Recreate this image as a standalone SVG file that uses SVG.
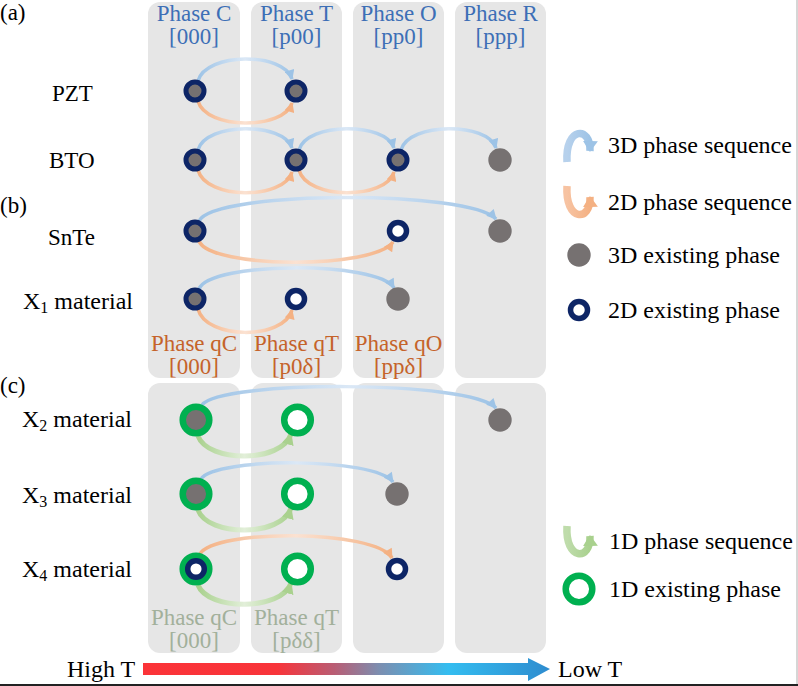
<svg xmlns="http://www.w3.org/2000/svg" width="798" height="686" viewBox="0 0 798 686">
<style>
text{font-family:"Liberation Serif","Times New Roman",serif;}
.lbl{font-size:23px;fill:#000;}
.lblx{font-size:24px;fill:#000;}
.leg{font-size:24px;fill:#000;}
.hdr{font-size:23px;fill:#3d6fb6;text-anchor:middle;}
.hq{font-size:23px;fill:#c5632a;text-anchor:middle;}
.hg{font-size:23px;fill:#a2b09b;text-anchor:middle;}
.col{fill:#e6e6e6;}
.g3{fill:#767171;}
.r2{fill:#767171;stroke:#0d2566;stroke-width:5;}
.o2{fill:#fff;stroke:#0d2566;stroke-width:5.5;}
.g1{fill:#fff;stroke:#00b050;stroke-width:6.5;}
.g1f{fill:#767171;stroke:#00b050;stroke-width:6.5;}
.ab{fill:none;stroke:url(#gb);stroke-width:3.5;marker-end:url(#mb);}
.ao{fill:none;stroke:url(#go);stroke-width:3.5;marker-end:url(#mo);}
.ag{fill:none;stroke:url(#gg);stroke-width:5;marker-end:url(#mg);}
</style>
<defs>
<linearGradient id="gb" x1="0" y1="0" x2="1" y2="0"><stop offset="0" stop-color="#9dc3e6"/><stop offset="0.5" stop-color="#dbe8f6"/><stop offset="1" stop-color="#9dc3e6"/></linearGradient>
<linearGradient id="go" x1="0" y1="0" x2="1" y2="0"><stop offset="0" stop-color="#f4b183"/><stop offset="0.5" stop-color="#fbe2d2"/><stop offset="1" stop-color="#f4b183"/></linearGradient>
<linearGradient id="gg" x1="0" y1="0" x2="1" y2="0"><stop offset="0" stop-color="#a9d18e"/><stop offset="0.5" stop-color="#e2efd9"/><stop offset="1" stop-color="#a9d18e"/></linearGradient>
<linearGradient id="gbv" x1="0" y1="0" x2="1" y2="0"><stop offset="0" stop-color="#b7d1ec"/><stop offset="1" stop-color="#9dc3e6"/></linearGradient>
<linearGradient id="gov" x1="0" y1="0" x2="1" y2="0"><stop offset="0" stop-color="#f7c3a2"/><stop offset="1" stop-color="#f4b183"/></linearGradient>
<linearGradient id="ggv" x1="0" y1="0" x2="1" y2="0"><stop offset="0" stop-color="#bfdcab"/><stop offset="1" stop-color="#a9d18e"/></linearGradient>
<linearGradient id="gt" x1="143" y1="0" x2="550" y2="0" gradientUnits="userSpaceOnUse">
<stop offset="0" stop-color="#fb3338"/><stop offset="0.33" stop-color="#f8343a"/><stop offset="0.47" stop-color="#b95d74"/><stop offset="0.58" stop-color="#7c8eb0"/><stop offset="0.75" stop-color="#34bdf0"/><stop offset="1" stop-color="#2e8ccf"/></linearGradient>
<marker id="mb" viewBox="0 0 10 10" refX="9" refY="5" markerWidth="11" markerHeight="10" markerUnits="userSpaceOnUse" orient="auto"><path d="M0,0 L10,5 L0,10 z" fill="#9dc3e6"/></marker>
<marker id="mo" viewBox="0 0 10 10" refX="9" refY="5" markerWidth="11" markerHeight="10" markerUnits="userSpaceOnUse" orient="auto"><path d="M0,0 L10,5 L0,10 z" fill="#f4b183"/></marker>
<marker id="mg" viewBox="0 0 10 10" refX="9" refY="5" markerWidth="12" markerHeight="12" markerUnits="userSpaceOnUse" orient="auto"><path d="M0,0 L10,5 L0,10 z" fill="#a9d18e"/></marker>
<marker id="mbL" viewBox="0 0 11 15" refX="10" refY="7.5" markerWidth="11" markerHeight="15" markerUnits="userSpaceOnUse" orient="auto"><path d="M0,0 L11,7.5 L0,15 z" fill="#9dc3e6"/></marker>
<marker id="moL" viewBox="0 0 11 15" refX="10" refY="7.5" markerWidth="11" markerHeight="15" markerUnits="userSpaceOnUse" orient="auto"><path d="M0,0 L11,7.5 L0,15 z" fill="#f4b183"/></marker>
<marker id="mgL" viewBox="0 0 11 15" refX="10" refY="7.5" markerWidth="11" markerHeight="15" markerUnits="userSpaceOnUse" orient="auto"><path d="M0,0 L11,7.5 L0,15 z" fill="#a9d18e"/></marker>
</defs>

<g id="columns">
<rect class="col" x="148" y="2" width="92" height="376" rx="12"/>
<rect class="col" x="251" y="2" width="91" height="376" rx="12"/>
<rect class="col" x="353" y="2" width="91" height="376" rx="12"/>
<rect class="col" x="455" y="2" width="91" height="376" rx="12"/>
<rect class="col" x="148" y="383" width="92" height="270" rx="12"/>
<rect class="col" x="251" y="383" width="91" height="270" rx="12"/>
<rect class="col" x="353" y="383" width="91" height="270" rx="12"/>
<rect class="col" x="455" y="383" width="91" height="270" rx="12"/>
</g>

<g id="headers">
<text class="hdr" x="194" y="21">Phase C</text><text class="hdr" x="194" y="44">[000]</text>
<text class="hdr" x="296.5" y="21">Phase T</text><text class="hdr" x="296.5" y="44">[p00]</text>
<text class="hdr" x="398.5" y="21">Phase O</text><text class="hdr" x="398.5" y="44">[pp0]</text>
<text class="hdr" x="500.5" y="21">Phase R</text><text class="hdr" x="500.5" y="44">[ppp]</text>
<text class="hq" x="194" y="351">Phase qC</text><text class="hq" x="194" y="374">[000]</text>
<text class="hq" x="296.5" y="351">Phase qT</text><text class="hq" x="296.5" y="374">[p0δ]</text>
<text class="hq" x="398.5" y="351">Phase qO</text><text class="hq" x="398.5" y="374">[ppδ]</text>
<text class="hg" x="194" y="625">Phase qC</text><text class="hg" x="194" y="648">[000]</text>
<text class="hg" x="296.5" y="625">Phase qT</text><text class="hg" x="296.5" y="648">[pδδ]</text>
</g>

<g id="row-labels">
<text class="lbl" x="0" y="20">(a)</text>
<text class="lbl" x="0" y="213">(b)</text>
<text class="lbl" x="0" y="393">(c)</text>
<text class="lbl" x="52" y="101">PZT</text>
<text class="lbl" x="49" y="168">BTO</text>
<text class="lbl" x="48" y="245">SnTe</text>
<text class="lblx" x="23" y="309">X<tspan font-size="16" dy="4">1</tspan><tspan dy="-4"> material</tspan></text>
<text class="lblx" x="22" y="427">X<tspan font-size="16" dy="4">2</tspan><tspan dy="-4"> material</tspan></text>
<text class="lblx" x="22" y="503">X<tspan font-size="16" dy="4">3</tspan><tspan dy="-4"> material</tspan></text>
<text class="lblx" x="22" y="577">X<tspan font-size="16" dy="4">4</tspan><tspan dy="-4"> material</tspan></text>
</g>

<g id="connectors">
<path class="ab" d="M198 81 C206 52 284 52 292 79"/>
<path class="ao" d="M198 101 C206 130 284 130 292 103"/>
<path class="ab" d="M198 150 C206 122 284 122 292 148"/>
<path class="ab" d="M299 150 C307 122 386 122 394 148"/>
<path class="ab" d="M401 150 C409 122 488 122 496 148"/>
<path class="ao" d="M198 170 C206 200 284 200 292 172"/>
<path class="ao" d="M299 170 C307 200 386 200 394 172"/>
<path class="ab" d="M199 221 C215 190 470 190 496 219"/>
<path class="ao" d="M199 241 C210 269 375 269 393 242"/>
<path class="ab" d="M199 289 C210 261 378 261 394 288"/>
<path class="ao" d="M198 309 C206 340 284 340 292 310"/>
<path class="ab" d="M202 405 C220 380 470 380 496 408"/>
<path class="ag" d="M198 436 C208 463 282 463 291 434"/>
<path class="ab" d="M201 479 C215 457 375 457 393 482"/>
<path class="ag" d="M198 510 C208 537 282 537 291 508"/>
<path class="ao" d="M200 554 C214 529 375 529 392 558"/>
<path class="ag" d="M198 585 C208 611 282 611 291 583"/>
</g>

<g id="PZT">
<circle class="r2" cx="195" cy="91" r="9"/>
<circle class="r2" cx="296" cy="91" r="9"/>
</g>
<g id="BTO">
<circle class="r2" cx="195" cy="160" r="9"/>
<circle class="r2" cx="296" cy="160" r="9"/>
<circle class="r2" cx="398" cy="160" r="9"/>
<circle class="g3" cx="500" cy="160" r="11.7"/>
</g>
<g id="SnTe">
<circle class="r2" cx="195" cy="231" r="9"/>
<circle class="o2" cx="398" cy="231" r="8.5"/>
<circle class="g3" cx="500" cy="231" r="11.7"/>
</g>
<g id="X1">
<circle class="r2" cx="195" cy="299" r="9"/>
<circle class="o2" cx="296" cy="299" r="8.5"/>
<circle class="g3" cx="398" cy="299" r="11.7"/>
</g>
<g id="X2">
<circle class="g1f" cx="196" cy="420" r="13.3"/>
<circle class="g1" cx="297.5" cy="420" r="13.3"/>
<circle class="g3" cx="500" cy="420" r="11.7"/>
</g>
<g id="X3">
<circle class="g1f" cx="196" cy="494" r="13.3"/>
<circle class="g1" cx="297.5" cy="494" r="13.3"/>
<circle class="g3" cx="397" cy="494" r="11.7"/>
</g>
<g id="X4">
<circle class="g1" cx="196" cy="569" r="13.3"/>
<circle class="o2" cx="196" cy="569" r="8.3"/>
<circle class="g1" cx="297.5" cy="569" r="13.3"/>
<circle class="o2" cx="397" cy="569" r="8.5"/>
</g>

<g id="legend">
<path d="M567 162 C565 126 591 126 590 151" fill="none" stroke="url(#gbv)" stroke-width="7.5" marker-end="url(#mbL)"/>
<text class="leg" x="608" y="153">3D phase sequence</text>
<path d="M567 186 C565 222 591 222 590 197" fill="none" stroke="url(#gov)" stroke-width="7.5" marker-end="url(#moL)"/>
<text class="leg" x="608" y="210">2D phase sequence</text>
<circle class="g3" cx="579" cy="255" r="11.7"/>
<text class="leg" x="608" y="263">3D existing phase</text>
<circle class="o2" cx="579" cy="310" r="8.5"/>
<text class="leg" x="608" y="318">2D existing phase</text>
<path d="M567 526 C565 561 591 561 590 536" fill="none" stroke="url(#ggv)" stroke-width="7.5" marker-end="url(#mgL)"/>
<text class="leg" x="609" y="549">1D phase sequence</text>
<circle class="g1" cx="579" cy="589" r="13.3"/>
<text class="leg" x="609" y="597">1D existing phase</text>
</g>

<g id="temperature-axis">
<path d="M143 663 L528 663 L528 658 L550 669 L528 681 L528 675 L143 675 Z" fill="url(#gt)"/>
<text class="lblx" x="67" y="677">High T</text>
<text class="lblx" x="558" y="677">Low T</text>
</g>

<g id="frame">
<line x1="797" y1="0" x2="797" y2="684" stroke="#c8c8c8" stroke-width="1.5"/>
<line x1="0" y1="685" x2="798" y2="685" stroke="#222" stroke-width="2"/>
</g>
</svg>
